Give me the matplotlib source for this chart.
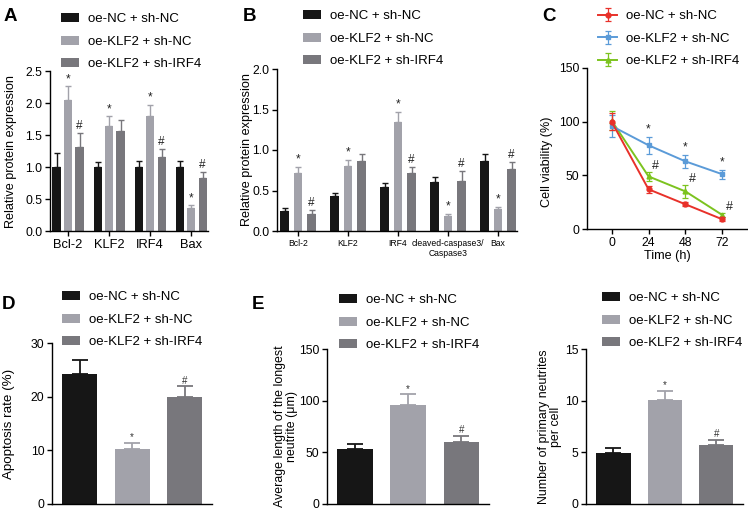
import matplotlib
matplotlib.use("Agg")
import matplotlib.pyplot as plt
import numpy as np

plt.rcParams['font.family'] = ['Liberation Sans', 'DejaVu Sans']

groups = ['oe-NC + sh-NC', 'oe-KLF2 + sh-NC', 'oe-KLF2 + sh-IRF4']
bar_colors = ['#161616', '#a2a2aa', '#78777c']
line_colors = ['#e8312a', '#5b9bd8', '#7cc31f']

# Panel A
a_cats = ['Bcl-2', 'KLF2', 'IRF4', 'Bax']
a_vals = [[1.0, 1.0, 1.0, 1.0], [2.05, 1.64, 1.79, 0.36], [1.32, 1.57, 1.16, 0.83]]
a_errs = [[0.22, 0.08, 0.10, 0.09], [0.21, 0.15, 0.18, 0.04], [0.21, 0.16, 0.12, 0.09]]
a_marks = [['', '', '', ''], ['*', '*', '*', '*'], ['#', '', '#', '#']]

# Panel B
b_cats = ['Bcl-2', 'KLF2', 'IRF4', 'cleaved-caspase3/\nCaspase3', 'Bax']
b_vals = [[0.25, 0.43, 0.54, 0.61, 0.86], [0.71, 0.80, 1.34, 0.18, 0.27], [0.21, 0.86, 0.72, 0.62, 0.77]]
b_errs = [[0.04, 0.04, 0.05, 0.06, 0.09], [0.08, 0.08, 0.13, 0.03, 0.03], [0.05, 0.09, 0.07, 0.12, 0.08]]
b_marks = [['', '', '', '', ''], ['*', '*', '*', '*', '*'], ['#', '', '#', '#', '#']]

# Panel C
c_time = [0, 24, 48, 72]
c_vals = [[100, 37, 23, 9], [96, 78, 63, 51], [101, 49, 35, 13]]
c_errs = [[8, 3, 2, 2], [10, 8, 6, 4], [9, 4, 6, 2]]
c_markers = ['o', 's', '^']

# Panel D, E, F
d_vals = [24.3, 10.3, 20.0]
d_errs = [2.5, 1.1, 1.9]
e_vals = [53, 96, 60]
e_errs = [5.5, 10, 6]
f_vals = [4.9, 10.05, 5.7]
f_errs = [0.5, 0.9, 0.5]
single_marks = ['', '*', '#']

W, H = 748, 512
fig = plt.figure(figsize=(W / 100, H / 100), dpi=100)

FS = 8.8
LFS = 9.5
LSP = 0.78


def add_ax(x0, x1, ytop, ybot):
    ax = fig.add_axes([x0 / W, 1 - ybot / H, (x1 - x0) / W, (ybot - ytop) / H])
    ax.spines['top'].set_visible(False)
    ax.spines['right'].set_visible(False)
    for s in ['left', 'bottom']:
        ax.spines[s].set_linewidth(1.0)
    ax.tick_params(direction='out', length=3.5, width=1.0, labelsize=FS, pad=2)
    return ax


def bar_legend(ax, x, ytop):
    from matplotlib.patches import Patch
    handles = [Patch(facecolor=c, edgecolor='none') for c in bar_colors]
    ax.legend(handles, groups, loc='upper left', bbox_to_anchor=(x / W, 1 - ytop / H),
              bbox_transform=fig.transFigure, frameon=False, fontsize=LFS,
              handlelength=1.38, handleheight=0.7, handletextpad=0.68,
              labelspacing=LSP, borderpad=0, borderaxespad=0)


def grouped(ax, vals, errs, marks, width, off, mfs):
    n = len(vals[0])
    xs = np.arange(n)
    for i in range(3):
        xi = xs + (i - 1) * off
        ax.bar(xi, vals[i], width=width, color=bar_colors[i], zorder=2)
        ax.errorbar(xi, vals[i], yerr=[np.zeros(n), errs[i]], fmt='none',
                    ecolor=bar_colors[i], elinewidth=1.0, capsize=2, capthick=1.0, zorder=2)
        for j in range(n):
            if marks[i][j]:
                ax.annotate(marks[i][j], (xi[j], vals[i][j] + errs[i][j]), xytext=(0, 1),
                            textcoords='offset points', ha='center', va='bottom',
                            fontsize=mfs, color='#222222')


# ---- A
axA = add_ax(50, 208, 71, 231)
grouped(axA, a_vals, a_errs, a_marks, 0.20, 0.28, 8.5)
axA.set_xlim(-0.44, 3.41)
axA.set_ylim(0, 2.5)
axA.set_yticks([0, 0.5, 1.0, 1.5, 2.0, 2.5])
axA.set_yticklabels(['0.0', '0.5', '1.0', '1.5', '2.0', '2.5'])
axA.set_xticks(range(4))
axA.set_xticklabels(a_cats, fontsize=FS + 0.5)
axA.set_ylabel('Relative protein expression', fontsize=9.1)
axA.yaxis.set_label_coords(-0.21, 0.5)
bar_legend(axA, 61, 13)

# ---- B
axB = add_ax(277, 517, 69, 231)
grouped(axB, b_vals, b_errs, b_marks, 0.17, 0.27, 8.5)
axB.set_xlim(-0.42, 4.38)
axB.set_ylim(0, 2.0)
axB.set_yticks([0, 0.5, 1.0, 1.5, 2.0])
axB.set_yticklabels(['0.0', '0.5', '1.0', '1.5', '2.0'])
axB.set_xticks(range(5))
axB.set_xticklabels(b_cats, fontsize=6.2, linespacing=1.2)
axB.set_ylabel('Relative protein expression', fontsize=9.1)
axB.yaxis.set_label_coords(-0.10, 0.5)
bar_legend(axB, 303, 10)

# ---- C
axC = add_ax(587, 747, 68, 229)
for i in range(3):
    axC.errorbar(c_time, c_vals[i], yerr=c_errs[i], color=line_colors[i], marker=c_markers[i],
                 markersize=3.5, linewidth=1.4, elinewidth=0.9, capsize=2, capthick=0.9,
                 ecolor=line_colors[i], label=groups[i], zorder=3 - i * 0.1)
for j in range(1, 4):
    axC.annotate('*', (c_time[j], c_vals[1][j] + c_errs[1][j]), xytext=(0, 1),
                 textcoords='offset points', ha='center', va='bottom', fontsize=8.5, color='#222222')
    axC.annotate('#', (c_time[j], c_vals[2][j] + c_errs[2][j]), xytext=(5, 0),
                 textcoords='offset points', ha='center', va='bottom', fontsize=9, color='#222222')
axC.set_xlim(-16, 88)
axC.set_ylim(0, 150)
axC.set_yticks([0, 50, 100, 150])
axC.set_xticks(c_time)
axC.set_xlabel('Time (h)', fontsize=9.1, labelpad=1)
axC.set_ylabel('Cell viability (%)', fontsize=9.1)
axC.yaxis.set_label_coords(-0.21, 0.42)
axC.legend(loc='upper left', bbox_to_anchor=(598 / W, 1 - 10 / H), bbox_transform=fig.transFigure,
           frameon=False, fontsize=LFS, handlelength=1.45, handletextpad=0.7, labelspacing=LSP,
           borderpad=0, borderaxespad=0)


def single(ax, vals, errs, ylim, yticks, ylabel, lx, legx, legy, lfs):
    xs = np.arange(3)
    for i in range(3):
        ax.bar(xs[i], vals[i], width=0.67, color=bar_colors[i], zorder=2)
        ax.errorbar(xs[i], vals[i], yerr=[[0], [errs[i]]], fmt='none', ecolor=bar_colors[i],
                    elinewidth=1.3, capsize=6, capthick=1.3, zorder=2)
        if single_marks[i]:
            ax.annotate(single_marks[i], (xs[i], vals[i] + errs[i]), xytext=(0, 0.5),
                        textcoords='offset points', ha='center', va='bottom', fontsize=7,
                        color='#333333')
    ax.set_xlim(-0.53, 2.52)
    ax.set_ylim(*ylim)
    ax.set_yticks(yticks)
    ax.set_xticks([])
    ax.set_ylabel(ylabel, fontsize=lfs, linespacing=1.0)
    ax.yaxis.set_label_coords(lx, 0.5)
    bar_legend(ax, legx, legy)


BOT = 504
axD = add_ax(52, 212, 343, BOT)
single(axD, d_vals, d_errs, (0, 30), [0, 10, 20, 30], 'Apoptosis rate (%)', -0.23, 62, 291, 9.6)

axE = add_ax(327, 489, 349, BOT)
single(axE, e_vals, e_errs, (0, 150), [0, 50, 100, 150],
       'Average length of the longest\nneutrite (μm)', -0.178, 339, 294, 8.9)

axF = add_ax(586, 743, 349, BOT)
single(axF, f_vals, f_errs, (0, 15), [0, 5, 10, 15],
       'Number of primary neutrites\nper cell', -0.15, 602, 292, 8.9)

# panel letters
for lab, x, y in [('A', 4, 8), ('B', 243, 8), ('C', 542, 8), ('D', 2, 296), ('E', 252, 296)]:
    fig.text(x / W, 1 - y / H, lab, fontsize=13.5, fontweight='bold', va='top', ha='left')

fig.savefig('out.png', dpi=100)
